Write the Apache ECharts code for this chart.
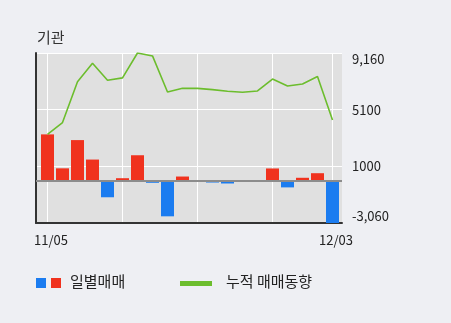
<!DOCTYPE html>
<html>
<head>
<meta charset="utf-8">
<script src="https://cdn.jsdelivr.net/npm/echarts@6/dist/echarts.min.js"></script>
<style>
html,body{margin:0;padding:0;background:#eeeff3;}
#c{width:451px;height:323px;}
</style>
</head>
<body>
<div id="c"></div>
<script>
// ---- data ----
const dayIndex = [0,1,2,3,4,5,6,7,8,9,10,11,12,13,14,15,16,17,18,19];
const dailyNet = [3310, 870, 2900, 1500, -1210, 160, 1810, -170, -2580, 280, 0, -150, -220, 0, 0, 860, -500, 190, 520, -3060];
const cumulative = [3310, 4160, 7100, 8420, 7200, 7370, 9160, 8950, 6360, 6620, 6620, 6530, 6410, 6340, 6430, 7290, 6790, 6930, 7470, 4350];
const xLabelIndex = [0, 19];
const xLabelText = ['11/05', '12/03'];
const xGridIndex = [0, 5, 10, 15, 19];
const yTickValues = [-3060, 1013.33, 5086.67, 9160];
const yTickLabels = ['-3,060', '1000', '5100', '9,160'];
const titleText = '기관';
const legendNames = ['일별매매', '누적 매매동향'];

const FONT = "'Noto Sans CJK KR', 'Noto Sans', sans-serif";
const chart = echarts.init(document.getElementById('c'), null, {renderer: 'canvas'});

const option = {
  backgroundColor: '#eeeff3',
  animation: false,
  title: {
    text: titleText, left: 32, top: 25,
    textStyle: {fontFamily: FONT, fontSize: 15, fontWeight: 'normal', color: '#333'}
  },
  grid: {
    left: 36, right: 109, top: 53, bottom: 100,
    show: true, backgroundColor: '#e0e0e0', borderWidth: 0
  },
  xAxis: {
    type: 'value',
    min: -0.7667, max: 19.6333,
    axisLine: {show: true, onZero: false, lineStyle: {color: '#333', width: 2}},
    axisTick: {show: false, customValues: xGridIndex},
    splitLine: {show: true, lineStyle: {color: '#ffffff', width: 1}},
    axisLabel: {
      customValues: xLabelIndex,
      formatter: v => xLabelText[xLabelIndex.indexOf(Math.round(v))] || '',
      fontFamily: FONT, fontSize: 13, color: '#222', margin: 11,
      padding: [0, 0, 0, 7]
    }
  },
  yAxis: [{
    type: 'value', position: 'right',
    min: yTickValues[0], max: yTickValues[3],
    axisLine: {show: false},
    axisTick: {show: false, customValues: yTickValues},
    splitLine: {show: true, lineStyle: {color: '#ffffff', width: 1}},
    axisLabel: {
      customValues: yTickValues,
      formatter: v => {
        let best = 0;
        yTickValues.forEach((t, i) => { if (Math.abs(t - v) < Math.abs(yTickValues[best] - v)) best = i; });
        return yTickLabels[best];
      },
      fontFamily: FONT, fontSize: 13, color: '#222', margin: 10,
      verticalAlignMaxLabel: 'top', verticalAlignMinLabel: 'bottom'
    }
  }, {
    type: 'value', position: 'left',
    min: yTickValues[0], max: yTickValues[3],
    axisLine: {show: true, lineStyle: {color: '#333', width: 2}},
    axisTick: {show: false}, axisLabel: {show: false}, splitLine: {show: false}
  }],
  series: [{
    type: 'bar',
    yAxisIndex: 0,
    barWidth: 13,
    data: dayIndex.map((d, i) => [d, dailyNet[i]]),
    itemStyle: {color: p => p.value[1] >= 0 ? '#f0321e' : '#1b7cf0'},
    markLine: {
      silent: true, symbol: 'none', label: {show: false},
      lineStyle: {color: '#8c8c8c', width: 2, type: 'solid'},
      data: [{yAxis: 0}]
    }
  }, {
    type: 'line',
    yAxisIndex: 0,
    data: dayIndex.map((d, i) => [d, cumulative[i]]),
    showSymbol: false,
    lineStyle: {color: '#6cbd2d', width: 1.6},
    itemStyle: {color: '#6cbd2d'},
    z: 5
  }],
  graphic: [
    {type: 'rect', left: 36, top: 278, shape: {width: 10, height: 10}, style: {fill: '#1b7cf0'}},
    {type: 'rect', left: 51, top: 278, shape: {width: 10, height: 10}, style: {fill: '#f0321e'}},
    {type: 'text', left: 70, top: 274, style: {text: legendNames[0], font: "15px " + FONT, fill: '#222'}},
    {type: 'rect', left: 180, top: 281, shape: {width: 32, height: 5}, style: {fill: '#6cbd2d'}},
    {type: 'text', left: 226, top: 274, style: {text: legendNames[1], font: "15px " + FONT, fill: '#222'}}
  ]
};
chart.setOption(option);
</script>
</body>
</html>
